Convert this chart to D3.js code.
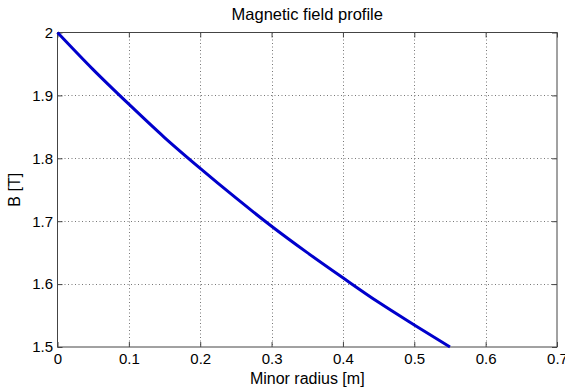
<!DOCTYPE html>
<html><head><meta charset="utf-8">
<script src="https://cdn.jsdelivr.net/npm/d3@7"></script>
<style>body{margin:0;background:#fff}svg{display:block}text{font-family:"Liberation Sans",Arial,sans-serif;fill:#000}</style>
</head><body>
<svg id="c" width="565" height="387"></svg>
<script>
const radius = [0, 0.05, 0.1, 0.15, 0.2, 0.25, 0.3, 0.35, 0.4, 0.45, 0.5, 0.55];
const field  = [2.000, 1.941, 1.886, 1.833, 1.784, 1.737, 1.692, 1.650, 1.610, 1.571, 1.535, 1.500];
const xTicks = [0, 0.1, 0.2, 0.3, 0.4, 0.5, 0.6, 0.7];
const yTicks = [1.5, 1.6, 1.7, 1.8, 1.9, 2];
const title = "Magnetic field profile";
const xLabel = "Minor radius [m]";
const yLabel = "B [T]";

const L = 57.5, R = 557, T = 32.5, B = 347;
const svg = d3.select("#c");
const x = d3.scaleLinear().domain([0, 0.7]).range([L, R]);
const y = d3.scaleLinear().domain([1.5, 2]).range([B, T]);

// grid
const g = svg.append("g");
g.selectAll(".vx").data(xTicks.slice(1, -1)).enter().append("line")
  .attr("x1", d => Math.round(x(d)) + 0.5).attr("x2", d => Math.round(x(d)) + 0.5)
  .attr("y1", T).attr("y2", B).attr("stroke", "#777").attr("stroke-dasharray", "1,2.5");
g.selectAll(".hy").data(yTicks.slice(1, -1)).enter().append("line")
  .attr("y1", d => Math.round(y(d)) + 0.5).attr("y2", d => Math.round(y(d)) + 0.5)
  .attr("x1", L).attr("x2", R).attr("stroke", "#777").attr("stroke-dasharray", "1,2.5");

// box
svg.append("rect").attr("x", L).attr("y", T).attr("width", R - L).attr("height", B - T)
  .attr("fill", "none").attr("stroke", "#444").attr("stroke-width", 1);

// axes
const xAxis = d3.axisBottom(x).tickValues(xTicks).tickSize(-5).tickPadding(6).tickFormat(d3.format("~g"));
const xa = svg.append("g").attr("transform", `translate(0,${B})`).call(xAxis);
xa.select(".domain").remove();
xa.selectAll("line").attr("stroke", "#444");
xa.selectAll("text").attr("font-size", 15).attr("font-family", "Liberation Sans, Arial, sans-serif");

const xTop = d3.axisTop(x).tickValues(xTicks).tickSize(-5).tickFormat("");
const xt = svg.append("g").attr("transform", `translate(0,${T})`).call(xTop);
xt.select(".domain").remove(); xt.selectAll("line").attr("stroke", "#444");

const yAxis = d3.axisLeft(y).tickValues(yTicks).tickSize(-5).tickPadding(4.5).tickFormat(d3.format("~g"));
const ya = svg.append("g").attr("transform", `translate(${L},0)`).call(yAxis);
ya.select(".domain").remove();
ya.selectAll("line").attr("stroke", "#444");
ya.selectAll("text").attr("font-size", 15).attr("font-family", "Liberation Sans, Arial, sans-serif");

const yRight = d3.axisRight(y).tickValues(yTicks).tickSize(-5).tickFormat("");
const yr = svg.append("g").attr("transform", `translate(${R},0)`).call(yRight);
yr.select(".domain").remove(); yr.selectAll("line").attr("stroke", "#444");

// line
const pts = radius.map((r, i) => [r, field[i]]);
svg.append("path").datum(pts)
  .attr("d", d3.line().x(d => x(d[0])).y(d => y(d[1])).curve(d3.curveMonotoneX))
  .attr("fill", "none").attr("stroke", "#0000cc").attr("stroke-width", 3);

// labels
svg.append("text").attr("x", (L + R) / 2).attr("y", 19.5).attr("text-anchor", "middle")
  .attr("font-size", 16.5).text(title);
svg.append("text").attr("x", (L + R) / 2).attr("y", 383.5).attr("text-anchor", "middle")
  .attr("font-size", 16).text(xLabel);
svg.append("text").attr("transform", `translate(20,${(T + B) / 2}) rotate(-90)`)
  .attr("text-anchor", "middle").attr("font-size", 16).text(yLabel);
</script>
</body></html>
